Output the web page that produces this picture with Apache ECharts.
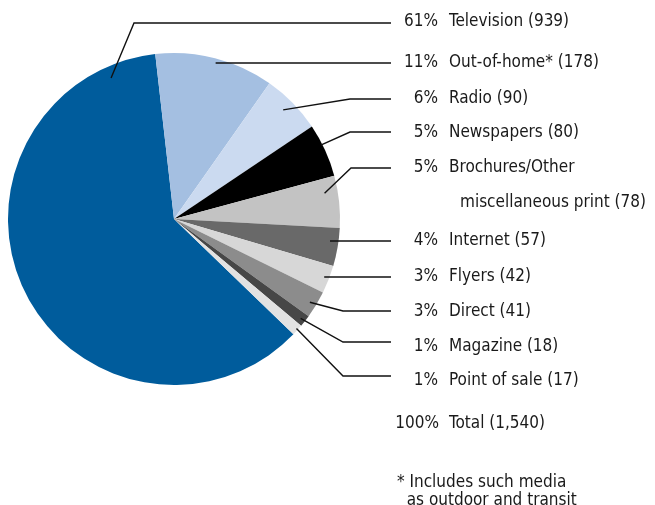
<!DOCTYPE html>
<html>
<head>
<meta charset="utf-8">
<script src="https://cdn.jsdelivr.net/npm/echarts@6/dist/echarts.min.js"></script>
<style>
  html, body { margin: 0; padding: 0; background: #fff; }
  #chart { width: 655px; height: 505px; }
</style>
</head>
<body>
<div id="chart"></div>
<script>
// Media spend by channel, listed in legend order
const categories = ['Television', 'Out-of-home*', 'Radio', 'Newspapers', 'Brochures/Other\nmiscellaneous print',
  'Internet', 'Flyers', 'Direct', 'Magazine', 'Point of sale'];
const values = [939, 178, 90, 80, 78, 57, 42, 41, 18, 17];
const shareLabels = ['61%', '11%', '6%', '5%', '5%', '4%', '3%', '3%', '1%', '1%'];
const totalLabel = ['100%', 'Total (1,540)'];
const footnote = ['* Includes such media', 'as outdoor and transit'];

// Slice colours
const colors = ['#005c9c', '#a4bfe1', '#cbdaf0', '#000000', '#c3c3c3',
  '#696969', '#d7d7d7', '#8c8c8c', '#474747', '#e2e2e2'];

// Layout of the label column and leader lines
const FONT = "'Liberation Sans Narrow', 'DejaVu Sans Condensed', 'Roboto Condensed', sans-serif";
const FS = 17;
const TEXT = '#1a1a1a';
const CX = 174, CY = 219, R = 166;
const START = 316;            // television starts lower right, runs clockwise
const LABEL_X = 397, PCT_W = 41, GAP = 11, LINE_END_X = 391;
const NAME_X = LABEL_X + PCT_W + GAP;
const rowY = [22, 63, 99, 133, 185.5, 241, 277, 312, 347, 381];
const lineY = [23, 63, 99, 132, 168, 241, 277, 311, 342, 376];
const cornerX = [134, null, 350, 350, 351, null, null, 343, 343, 343];
const anchorFrac = [0.92, 0.52, 0.47, 0.38, 0.3, 0.65, 0.48, 0.55, 0.55, 0.45];
const anchorR = [0.93, 0.96, 0.93, 0.99, 0.92, 0.96, 0.97, 0.96, 0.97, 0.99];

const total = values.reduce((a, b) => a + b, 0);
const sliceStart = [];
let acc = 0;
values.forEach(v => { sliceStart.push(START - acc / total * 360); acc += v; });

function anchorPoint(i) {
  const span = values[i] / total * 360;
  const ang = (sliceStart[i] - span * anchorFrac[i]) * Math.PI / 180;
  const r = R * anchorR[i];
  return [CX + r * Math.cos(ang), CY - r * Math.sin(ang)];
}

// width of a string in the label font, used to right-align the percentages
const measureCtx = document.createElement('canvas').getContext('2d');
measureCtx.font = FS + 'px ' + FONT;
function pctPad(s) { return Math.max(0, PCT_W - measureCtx.measureText(s).width); }

const tok = (extra) => Object.assign({ fontSize: FS, fontFamily: FONT, color: TEXT, lineHeight: 35, align: 'left' }, extra);

function leaderLines() {
  return values.map((v, i) => {
    const a = anchorPoint(i);
    let pts;
    if (cornerX[i] !== null) pts = [a, [cornerX[i], lineY[i]], [LINE_END_X, lineY[i]]];
    else pts = [[a[0], lineY[i]], [LINE_END_X, lineY[i]]];
    return {
      type: 'polyline', z: 100, silent: true,
      shape: { points: pts },
      style: { stroke: '#111111', lineWidth: 1.4, fill: null }
    };
  });
}

const chart = echarts.init(document.getElementById('chart'), null, { renderer: 'canvas' });

chart.setOption({
  backgroundColor: '#ffffff',
  animation: false,
  textStyle: { fontFamily: FONT },
  series: [{
    type: 'pie',
    center: [CX, CY],
    radius: R,
    startAngle: START,
    clockwise: true,
    avoidLabelOverlap: false,
    itemStyle: { borderWidth: 0 },
    emphasis: { disabled: true },
    data: categories.map((name, i) => ({
      name, value: values[i], itemStyle: { color: colors[i] }
    })),
    label: {
      show: true,
      position: 'outside',
      color: TEXT,
      fontFamily: FONT,
      fontSize: FS,
      lineHeight: 35,
      formatter: (p) => {
        const i = p.dataIndex;
        const lines = p.name.split('\n');
        const last = lines.length - 1;
        return lines.map((ln, k) => {
          const txt = k === last ? ln + ' (' + p.value + ')' : ln;
          return k === 0 ? '{p' + i + '|' + shareLabels[i] + '}{n|' + txt + '}' : '{m|' + txt + '}';
        }).join('\n');
      },
      rich: Object.assign({
        n: tok({ padding: [0, 0, 0, GAP] }),
        m: tok({ padding: [0, 0, 0, PCT_W + GAP + 11] })
      }, Object.fromEntries(shareLabels.map((s, i) => ['p' + i, tok({ padding: [0, 0, 0, pctPad(s)] })])))
    },
    labelLine: { show: false },
    labelLayout: (params) => ({
      x: LABEL_X,
      y: rowY[params.dataIndex],
      align: 'left',
      verticalAlign: 'middle'
    })
  }],
  graphic: leaderLines().concat([
    {
      type: 'text', x: NAME_X - GAP + 1, y: 424,
      style: {
        text: totalLabel[0], align: 'right', verticalAlign: 'middle',
        fontSize: FS, fontFamily: FONT, fill: TEXT
      }
    },
    {
      type: 'text', x: NAME_X, y: 424,
      style: {
        text: totalLabel[1], align: 'left', verticalAlign: 'middle',
        fontSize: FS, fontFamily: FONT, fill: TEXT
      }
    },
    {
      type: 'text', left: 397, top: 474,
      style: {
        text: footnote[0] + '\n  ' + footnote[1],
        fontSize: 17, fontFamily: FONT, fill: TEXT, lineHeight: 18
      }
    }
  ])
});
</script>
</body>
</html>
